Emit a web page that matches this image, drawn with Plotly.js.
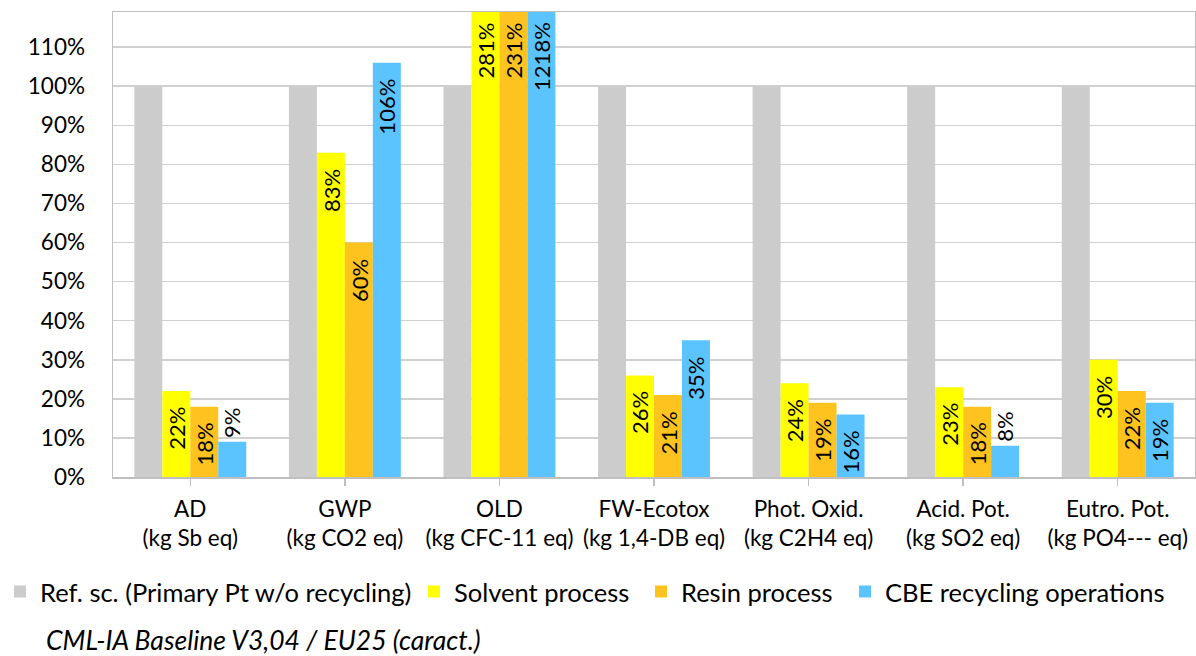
<!DOCTYPE html>
<html>
<head>
<meta charset="utf-8">
<script src="https://cdn.plot.ly/plotly-3.0.1.min.js"></script>
<style>html,body{margin:0;padding:0;background:#fff;}#chart{width:1196px;height:656px;}</style>
</head>
<body>
<div id="chart"></div>
<script>
var categories = ["AD", "GWP", "OLD", "FW-Ecotox", "Phot. Oxid.", "Acid. Pot.", "Eutro. Pot."];
var categoryUnits = ["(kg Sb eq)", "(kg CO2 eq)", "(kg CFC-11 eq)", "(kg 1,4-DB eq)", "(kg C2H4 eq)", "(kg SO2 eq)", "(kg PO4--- eq)"];
var seriesNames = ["Ref. sc. (Primary Pt w/o recycling)", "Solvent process", "Resin process", "CBE recycling operations"];
var refValues = [100, 100, 100, 100, 100, 100, 100];
var solventValues = [22, 83, 281, 26, 24, 23, 30];
var resinValues = [18, 60, 231, 21, 19, 18, 22];
var cbeValues = [9, 106, 1218, 35, 16, 8, 19];
var yTickValues = [0, 10, 20, 30, 40, 50, 60, 70, 80, 90, 100, 110];
var footnote = "CML-IA Baseline V3,04 / EU25 (caract.)";

var colors = ["#cccccc", "#ffff00", "#ffc31f", "#5bc4ff"];
var FONT = "Lato, 'Open Sans', sans-serif";
var seriesValues = [refValues, solventValues, resinValues, cbeValues];
var legendIds = ["legend", "legend2", "legend3", "legend4"];
var legendX = [-16, 414, 641, 845];

var W = 1196, H = 656;
var M = {l: 113, r: 1, t: 12, b: 179};
var yMax = 119;
var BARGAP = 0.276;
var plotW = W - M.l - M.r, plotH = H - M.t - M.b;
var catPx = plotW / categories.length;
var barPx = catPx * (1 - BARGAP) / seriesValues.length;
var pxPerUnit = plotH / yMax;

var traces = seriesValues.map(function (vals, i) {
  return {
    type: "bar",
    name: seriesNames[i],
    x: categories,
    y: vals,
    marker: {color: colors[i], line: {width: 0}},
    legend: legendIds[i],
    cliponaxis: true,
    textposition: "none",
    hoverinfo: "x+y+name"
  };
});

var annotations = [];
seriesValues.forEach(function (vals, i) {
  if (i === 0) return;
  vals.forEach(function (v, j) {
    var clipped = v > yMax;
    var shown = Math.min(v, yMax);
    var inside = shown * pxPerUnit > 40;
    annotations.push({
      text: v + "%",
      x: categories[j],
      y: shown,
      xref: "x", yref: "y",
      xshift: (i - 1.5) * barPx,
      yshift: inside ? (clipped ? -9 : -15) : 3,
      textangle: -90,
      xanchor: "center",
      yanchor: inside ? "top" : "bottom",
      showarrow: false,
      borderpad: 0,
      font: {family: FONT, size: 22, color: "#000"}
    });
  });
});

annotations.push({
  text: "<i>" + footnote + "</i>",
  xref: "paper", yref: "paper",
  x: (44 - M.l) / plotW, y: -(640 - (H - M.b)) / plotH,
  xanchor: "left", yanchor: "middle",
  showarrow: false,
  font: {family: FONT, size: 26.5, color: "#000"}
});

var layout = {
  width: W,
  height: H,
  margin: M,
  paper_bgcolor: "#ffffff",
  plot_bgcolor: "#ffffff",
  font: {family: FONT, color: "#000", size: 22},
  barmode: "group",
  bargap: BARGAP,
  bargroupgap: 0,
  showlegend: true,
  xaxis: {
    type: "category",
    tickmode: "array",
    tickvals: categories,
    ticktext: categories.map(function (c, i) { return c + "<br>" + categoryUnits[i]; }),
    ticks: "outside",
    ticklen: 7,
    tickwidth: 1.5,
    tickcolor: "#bfbfbf",
    showline: true,
    linecolor: "#bfbfbf",
    linewidth: 1.5,
    mirror: true,
    showgrid: false,
    tickfont: {family: FONT, size: 22.5, color: "#000"},
    ticklabelstandoff: 4,
    fixedrange: true
  },
  yaxis: {
    range: [0, yMax],
    tickmode: "array",
    tickvals: yTickValues,
    ticktext: yTickValues.map(function (v) { return v + "%"; }),
    ticks: "",
    showline: true,
    linecolor: "#bfbfbf",
    linewidth: 1.5,
    mirror: true,
    showgrid: true,
    gridcolor: "#d0d0d0",
    gridwidth: 1.5,
    zeroline: false,
    tickfont: {family: FONT, size: 22.5, color: "#000"},
    ticklabelstandoff: 22,
    fixedrange: true
  },
  annotations: annotations
};

legendIds.forEach(function (id, i) {
  layout[id] = {
    xref: "container", yref: "container",
    x: legendX[i] / W, y: 1 - 592 / H,
    xanchor: "left", yanchor: "middle",
    orientation: "h",
    bgcolor: "rgba(0,0,0,0)",
    borderwidth: 0,
    font: {family: FONT, size: 25.5, color: "#000"}
  };
});

Plotly.newPlot("chart", traces, layout, {displayModeBar: false, staticPlot: true});
</script>
</body>
</html>
